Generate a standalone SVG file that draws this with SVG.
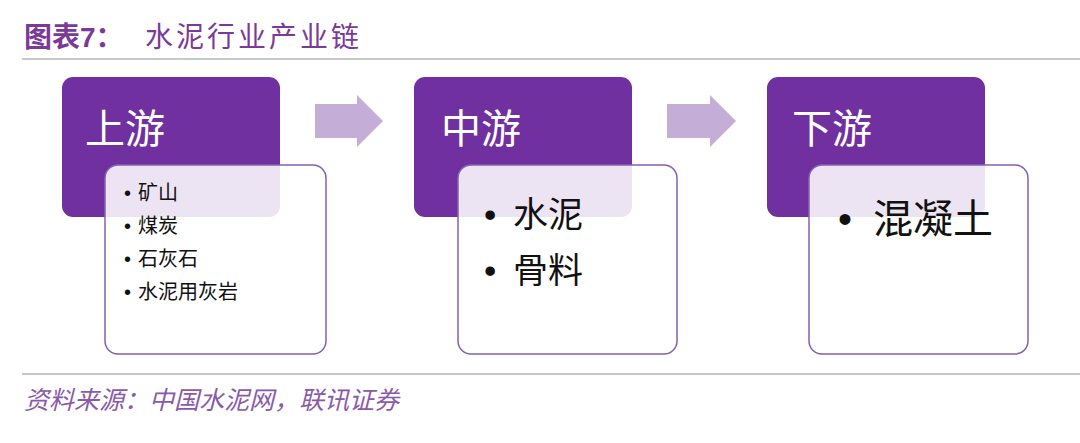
<svg xmlns="http://www.w3.org/2000/svg" width="1080" height="443" viewBox="0 0 1080 443">
<style>
.cjk{font-family:"Liberation Sans","Noto Sans CJK SC",sans-serif}
.head{fill:#7030a0}
.card{fill:#ffffff;fill-opacity:0.87;stroke:#8560b0;stroke-width:1.5}
.htxt{fill:#ffffff;font-size:40px}
.btxt{fill:#111111}
.arr{fill:#c4aed8}
.rule{stroke:#c8c8c8;stroke-width:2}
</style>
<rect width="1080" height="443" fill="#ffffff"/>
<g id="title">
<text class="cjk" x="24" y="47" font-size="28" fill="#7b3a98"><tspan font-weight="bold">图表7：</tspan><tspan x="145" letter-spacing="3">水泥行业产业链</tspan></text>
<line class="rule" x1="22" y1="59" x2="1080" y2="59"/>
</g>
<g id="connectors">
<polygon class="arr" points="315,104 357,104 357,95 383,121 357,147 357,138 315,138"/>
<polygon class="arr" points="667,104 710,104 710,95 736,121 710,147 710,138 667,138"/>
</g>
<g id="upstream">
<rect class="head" x="62" y="77" width="218" height="140" rx="11"/>
<text class="cjk htxt" x="85" y="143">上游</text>
<rect class="card" x="105" y="165" width="221" height="189" rx="13"/>
<g class="cjk btxt" font-size="20">
<text x="124" y="200">•</text><text x="138" y="200">矿山</text>
<text x="124" y="233">•</text><text x="138" y="233">煤炭</text>
<text x="124" y="266">•</text><text x="138" y="266">石灰石</text>
<text x="124" y="299">•</text><text x="138" y="299">水泥用灰岩</text>
</g>
</g>
<g id="midstream">
<rect class="head" x="414" y="77" width="218" height="140" rx="11"/>
<text class="cjk htxt" x="441" y="143">中游</text>
<rect class="card" x="458" y="165" width="219" height="189" rx="13"/>
<g class="cjk btxt" font-size="35">
<text x="484" y="227">•</text><text x="513" y="227">水泥</text>
<text x="484" y="283">•</text><text x="513" y="283">骨料</text>
</g>
</g>
<g id="downstream">
<rect class="head" x="767" y="77" width="218" height="140" rx="11"/>
<text class="cjk htxt" x="792" y="143">下游</text>
<rect class="card" x="809" y="165" width="219" height="189" rx="13"/>
<g class="cjk btxt" font-size="40">
<text x="838" y="233">•</text><text x="873" y="233">混凝土</text>
</g>
</g>
<g id="footer">
<line class="rule" x1="22" y1="374" x2="1080" y2="374"/>
<text class="cjk" x="24" y="409" font-size="25" font-style="italic" fill="#8a5aa8">资料来源：中国水泥网，联讯证券</text>
</g>
</svg>
